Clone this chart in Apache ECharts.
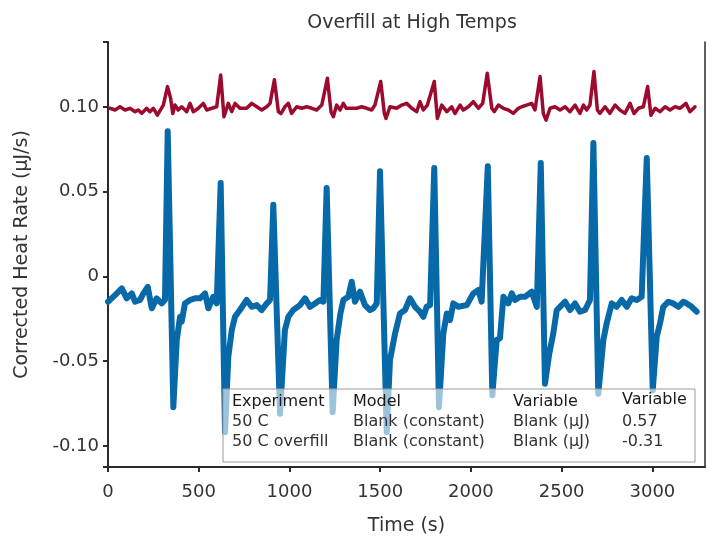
<!DOCTYPE html>
<html>
<head>
<meta charset="utf-8">
<script src="https://cdn.jsdelivr.net/npm/echarts@6/dist/echarts.min.js"></script>
<style>
  html, body { margin: 0; padding: 0; background: #fff; }
  #chart { width: 707px; height: 539px; }
</style>
</head>
<body>
<div id="chart"></div>
<script>
// 50 C overfill (blue)
const timeOverfill = [0, 39, 76, 103, 131, 149, 176, 195, 219, 241, 268, 296, 314, 329, 360, 379, 397, 406, 424, 452,
  479, 507, 535, 553, 580, 599, 621, 645, 663, 682, 700, 727, 764, 792, 820, 847, 875, 893, 911, 948,
  975, 994, 1021, 1058, 1086, 1113, 1141, 1168, 1187, 1205, 1238, 1260, 1281, 1297, 1324, 1343, 1361, 1389, 1416, 1444,
  1462, 1481, 1499, 1536, 1554, 1582, 1609, 1637, 1664, 1692, 1719, 1738, 1756, 1775, 1798, 1824, 1848, 1867, 1885, 1903,
  1931, 1977, 2013, 2041, 2059, 2093, 2118, 2142, 2160, 2179, 2206, 2225, 2243, 2271, 2298, 2335, 2363, 2385, 2408, 2432,
  2454, 2473, 2491, 2519, 2546, 2574, 2601, 2629, 2656, 2675, 2702, 2730, 2748, 2776, 2803, 2831, 2859, 2886, 2914, 2941,
  2969, 3002, 3024, 3042, 3060, 3088, 3115, 3143, 3171, 3189, 3217, 3244];
const heatOverfill = [-0.0149, -0.0110, -0.0070, -0.0129, -0.0100, -0.0149, -0.0139, -0.0100, -0.0061, -0.0188, -0.0129, -0.0159, -0.0139, 0.0856, -0.0771, -0.0375, -0.0238, -0.0267, -0.0159, -0.0139,
  -0.0129, -0.0129, -0.0100, -0.0188, -0.0120, -0.0159, 0.0551, -0.0918, -0.0474, -0.0316, -0.0238, -0.0198, -0.0139, -0.0179, -0.0169, -0.0198, -0.0159, -0.0139, 0.0423, -0.0810,
  -0.0316, -0.0238, -0.0198, -0.0169, -0.0129, -0.0179, -0.0159, -0.0139, -0.0149, 0.0522, -0.0800, -0.0375, -0.0218, -0.0139, -0.0120, -0.0031, -0.0149, -0.0090, -0.0169, -0.0198,
  -0.0188, -0.0159, 0.0620, -0.0918, -0.0493, -0.0336, -0.0218, -0.0198, -0.0129, -0.0179, -0.0208, -0.0238, -0.0179, -0.0169, 0.0640, -0.0771, -0.0336, -0.0218, -0.0257, -0.0159,
  -0.0179, -0.0169, -0.0100, -0.0080, -0.0149, 0.0650, -0.0701, -0.0375, -0.0365, -0.0120, -0.0159, -0.0100, -0.0139, -0.0120, -0.0120, -0.0090, -0.0179, 0.0669, -0.0633, -0.0454,
  -0.0336, -0.0198, -0.0179, -0.0149, -0.0198, -0.0159, -0.0208, -0.0198, -0.0139, 0.0787, -0.0692, -0.0375, -0.0277, -0.0159, -0.0179, -0.0139, -0.0179, -0.0129, -0.0139, -0.0120,
  0.0699, -0.0672, -0.0356, -0.0277, -0.0179, -0.0149, -0.0159, -0.0179, -0.0149, -0.0159, -0.0179, -0.0208];

// 50 C (red)
const timeNormal = [11, 39, 66, 94, 121, 149, 167, 186, 213, 231, 250, 272, 305, 328, 345, 357, 369, 387, 406, 434,
  452, 470, 498, 525, 544, 572, 599, 621, 639, 663, 682, 700, 727, 764, 792, 820, 847, 875, 893, 917,
  939, 953, 975, 994, 1012, 1040, 1067, 1095, 1123, 1150, 1178, 1209, 1229, 1242, 1260, 1279, 1297, 1313, 1343, 1371,
  1398, 1426, 1453, 1471, 1503, 1523, 1532, 1554, 1591, 1619, 1646, 1674, 1701, 1719, 1738, 1760, 1798, 1815, 1839, 1867,
  1894, 1912, 1940, 1958, 1986, 2013, 2041, 2065, 2090, 2115, 2129, 2151, 2179, 2206, 2234, 2261, 2280, 2307, 2335, 2353,
  2381, 2399, 2414, 2436, 2463, 2491, 2519, 2546, 2574, 2601, 2620, 2638, 2656, 2678, 2697, 2711, 2739, 2766, 2794, 2821,
  2849, 2877, 2899, 2923, 2950, 2974, 2992, 3015, 3042, 3070, 3097, 3125, 3152, 3185, 3207, 3235];
const heatNormal = [0.0992, 0.0982, 0.1001, 0.0982, 0.0992, 0.0972, 0.0982, 0.0962, 0.0992, 0.0972, 0.0992, 0.0951, 0.1011, 0.1120, 0.1051, 0.0961, 0.1011, 0.0982, 0.1001, 0.0972,
  0.1021, 0.0972, 0.0992, 0.1021, 0.0982, 0.0992, 0.1001, 0.1189, 0.0942, 0.1021, 0.0972, 0.1021, 0.0992, 0.0992, 0.1021, 0.1001, 0.0982, 0.1001, 0.1021, 0.1160,
  0.0972, 0.0961, 0.1001, 0.1021, 0.0962, 0.1001, 0.0992, 0.1001, 0.0992, 0.0982, 0.1011, 0.1169, 0.0972, 0.0942, 0.1011, 0.0982, 0.1021, 0.0992, 0.0992, 0.0992,
  0.1001, 0.0992, 0.0982, 0.1011, 0.1150, 0.0961, 0.0932, 0.1001, 0.0992, 0.1011, 0.1021, 0.0992, 0.0972, 0.1031, 0.0982, 0.1011, 0.1150, 0.0932, 0.1011, 0.0972,
  0.1001, 0.0961, 0.1011, 0.0982, 0.1001, 0.1031, 0.0992, 0.1021, 0.1199, 0.0992, 0.0972, 0.1011, 0.0992, 0.0982, 0.0962, 0.0992, 0.1001, 0.1011, 0.1021, 0.0982,
  0.1179, 0.0961, 0.0922, 0.0992, 0.1001, 0.0982, 0.1001, 0.0972, 0.1011, 0.0962, 0.1011, 0.0982, 0.1011, 0.1209, 0.0982, 0.0962, 0.1001, 0.0962, 0.1011, 0.0982,
  0.0962, 0.1021, 0.0961, 0.0992, 0.1001, 0.1120, 0.0951, 0.0992, 0.0972, 0.1001, 0.0982, 0.1001, 0.0992, 0.1021, 0.0972, 0.1001];

const yTicks = [-0.10, -0.05, 0, 0.05, 0.10];
const legendHeader = ['Experiment', 'Model', 'Variable', 'Variable'];
const legendRows = [
  ['50 C', 'Blank (constant)', 'Blank (\u00b5J)', '0.57'],
  ['50 C overfill', 'Blank (constant)', 'Blank (\u00b5J)', '-0.31'],
];

const Y_MIN = -0.1124;
const Y_MAX = 0.1383;
const FONT = 'DejaVu Sans';

function zip(xs, ys) {
  return xs.map((x, i) => [x, ys[i]]);
}

// legend table drawn as plain graphics over the lines
const colX = [232, 353, 513, 622];
const rowY = [402, 422, 442];
const tableText = [];
legendHeader.forEach((t, i) => {
  tableText.push({
    type: 'text', x: colX[i], y: i === 3 ? 400 : rowY[0], z: 101,
    style: { text: t, fontFamily: FONT, fontSize: 16, fill: '#1a1a1a', verticalAlign: 'middle' },
  });
});
legendRows.forEach((row, r) => {
  row.forEach((t, i) => {
    tableText.push({
      type: 'text', x: colX[i], y: rowY[r + 1], z: 101,
      style: { text: t, fontFamily: FONT, fontSize: 16, fill: '#333', verticalAlign: 'middle' },
    });
  });
});

const option = {
  animation: false,
  textStyle: { fontFamily: FONT },
  title: {
    text: 'Overfill at High Temps',
    left: 407,
    textAlign: 'center',
    top: 9,
    textStyle: { fontFamily: FONT, fontSize: 19, fontWeight: 'normal', color: '#333' },
  },
  grid: { left: 108, right: 2, top: 42, bottom: 72, outerBoundsMode: 'none' },
  xAxis: {
    type: 'value',
    min: 0,
    max: 3290,
    interval: 500,
    name: 'Time (s)',
    nameLocation: 'middle',
    nameGap: 50,
    nameTextStyle: { fontFamily: FONT, fontSize: 19, color: '#333' },
    axisLine: { onZero: false, lineStyle: { color: '#2b2b2b', width: 2 } },
    axisTick: { show: true, length: 5, lineStyle: { color: '#2b2b2b', width: 2 } },
    axisLabel: {
      fontFamily: FONT, fontSize: 18, color: '#333', margin: 16, showMaxLabel: false,
      formatter: v => String(v),
    },
    splitLine: { show: false },
  },
  yAxis: [
    {
      type: 'value',
      min: Y_MIN,
      max: Y_MAX,
      name: 'Corrected Heat Rate (\u00b5J/s)',
      nameLocation: 'middle',
      nameGap: 76,
      nameTextStyle: { fontFamily: FONT, fontSize: 19, color: '#333' },
      axisLine: { show: true, onZero: false, lineStyle: { color: '#2b2b2b', width: 2 } },
      axisTick: {
        show: true, length: 5, customValues: [Y_MIN].concat(yTicks, [Y_MAX]),
        lineStyle: { color: '#2b2b2b', width: 2 },
      },
      axisLabel: {
        fontFamily: FONT, fontSize: 18, color: '#333', margin: 9,
        customValues: yTicks,
        formatter: v => (Math.abs(v) < 1e-9 ? '0' : v.toFixed(2)),
      },
      splitLine: { show: false },
    },
    {
      type: 'value',
      position: 'right',
      min: Y_MIN,
      max: Y_MAX,
      axisLine: { show: true, onZero: false, lineStyle: { color: '#2b2b2b', width: 1.5 } },
      axisTick: { show: false },
      axisLabel: { show: false },
      splitLine: { show: false },
    },
  ],
  series: [
    {
      name: '50 C',
      type: 'line',
      data: zip(timeNormal, heatNormal),
      showSymbol: false,
      lineStyle: { color: '#9c0a2e', width: 3.5, join: 'round', cap: 'round' },
      itemStyle: { color: '#9c0a2e' },
    },
    {
      name: '50 C overfill',
      type: 'line',
      data: zip(timeOverfill, heatOverfill),
      showSymbol: false,
      lineStyle: { color: '#0869a8', width: 6, join: 'round', cap: 'round' },
      itemStyle: { color: '#0869a8' },
    },
  ],
  graphic: [
    {
      type: 'rect',
      z: 100,
      shape: { x: 223, y: 389, width: 472, height: 73 },
      style: { fill: 'rgba(255,255,255,0.6)', stroke: '#9a9a9a', lineWidth: 1 },
    },
  ].concat(tableText),
};

const myChart = echarts.init(document.getElementById('chart'));
myChart.setOption(option);
</script>
</body>
</html>
